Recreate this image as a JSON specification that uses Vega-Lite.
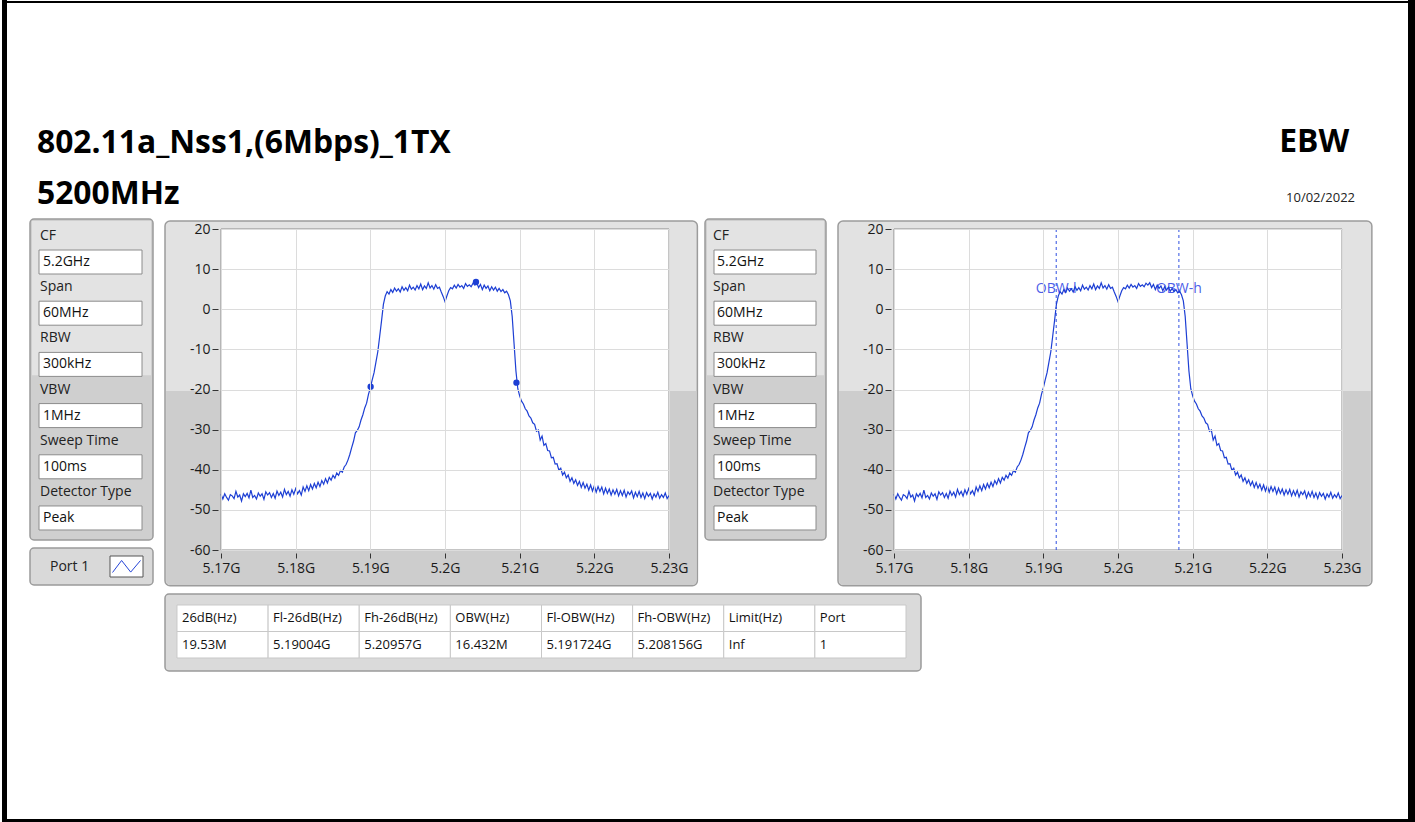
{
  "$schema": "https://vega.github.io/schema/vega-lite/v6.json",
  "padding": 0,
  "background": "white",
  "config": {"view": {"stroke": null}, "font": "Open Sans"},
  "datasets": {
    "trace": [
      {"f":5170,"p":-46.1},{"f":5170.25,"p":-47.3},{"f":5170.5,"p":-46.0},{"f":5170.75,"p":-46.9},
      {"f":5171,"p":-47.6},{"f":5171.25,"p":-46.2},{"f":5171.5,"p":-46.5},{"f":5171.75,"p":-47.2},
      {"f":5172,"p":-45.4},{"f":5172.25,"p":-46.8},{"f":5172.5,"p":-46.3},{"f":5172.75,"p":-47.8},
      {"f":5173,"p":-46.0},{"f":5173.25,"p":-46.7},{"f":5173.5,"p":-45.9},{"f":5173.75,"p":-47.0},
      {"f":5174,"p":-45.1},{"f":5174.25,"p":-46.9},{"f":5174.5,"p":-46.4},{"f":5174.75,"p":-47.3},
      {"f":5175,"p":-45.8},{"f":5175.25,"p":-46.6},{"f":5175.5,"p":-46.0},{"f":5175.75,"p":-47.4},
      {"f":5176,"p":-45.5},{"f":5176.25,"p":-46.3},{"f":5176.5,"p":-45.7},{"f":5176.75,"p":-46.9},
      {"f":5177,"p":-45.9},{"f":5177.25,"p":-47.1},{"f":5177.5,"p":-45.3},{"f":5177.75,"p":-46.4},
      {"f":5178,"p":-45.6},{"f":5178.25,"p":-46.8},{"f":5178.5,"p":-44.9},{"f":5178.75,"p":-46.2},
      {"f":5179,"p":-45.4},{"f":5179.25,"p":-46.6},{"f":5179.5,"p":-45.0},{"f":5179.75,"p":-46.1},
      {"f":5180,"p":-44.7},{"f":5180.25,"p":-46.0},{"f":5180.5,"p":-45.2},{"f":5180.75,"p":-46.3},
      {"f":5181,"p":-44.3},{"f":5181.25,"p":-45.4},{"f":5181.5,"p":-44.0},{"f":5181.75,"p":-45.2},
      {"f":5182,"p":-43.7},{"f":5182.25,"p":-44.8},{"f":5182.5,"p":-43.4},{"f":5182.75,"p":-44.5},
      {"f":5183,"p":-43.1},{"f":5183.25,"p":-44.2},{"f":5183.5,"p":-42.7},{"f":5183.75,"p":-43.6},
      {"f":5184,"p":-42.2},{"f":5184.25,"p":-43.3},{"f":5184.5,"p":-41.9},{"f":5184.75,"p":-42.6},
      {"f":5185,"p":-41.4},{"f":5185.25,"p":-42.1},{"f":5185.5,"p":-40.8},{"f":5185.75,"p":-41.4},
      {"f":5186,"p":-40.2},{"f":5186.25,"p":-40.6},{"f":5186.5,"p":-39.3},{"f":5186.75,"p":-38.7},
      {"f":5187,"p":-37.6},{"f":5187.25,"p":-36.2},{"f":5187.5,"p":-34.5},{"f":5187.75,"p":-32.9},
      {"f":5188,"p":-30.8},{"f":5188.25,"p":-30.2},{"f":5188.5,"p":-29.3},{"f":5188.75,"p":-27.6},
      {"f":5189,"p":-26.3},{"f":5189.25,"p":-24.6},{"f":5189.5,"p":-23.4},{"f":5189.75,"p":-21.2},
      {"f":5190,"p":-19.6},{"f":5190.25,"p":-17.6},{"f":5190.5,"p":-15.8},{"f":5190.75,"p":-13.2},
      {"f":5191,"p":-10.6},{"f":5191.25,"p":-6.8},{"f":5191.5,"p":-2.9},{"f":5191.75,"p":1.2},
      {"f":5192,"p":3.3},{"f":5192.25,"p":4.4},{"f":5192.5,"p":3.8},{"f":5192.75,"p":4.9},
      {"f":5193,"p":4.2},{"f":5193.25,"p":5.3},{"f":5193.5,"p":4.5},{"f":5193.75,"p":5.1},
      {"f":5194,"p":4.3},{"f":5194.25,"p":5.6},{"f":5194.5,"p":4.7},{"f":5194.75,"p":5.4},
      {"f":5195,"p":4.6},{"f":5195.25,"p":6.0},{"f":5195.5,"p":5.0},{"f":5195.75,"p":5.5},
      {"f":5196,"p":4.8},{"f":5196.25,"p":5.9},{"f":5196.5,"p":5.1},{"f":5196.75,"p":6.3},
      {"f":5197,"p":4.9},{"f":5197.25,"p":5.8},{"f":5197.5,"p":5.2},{"f":5197.75,"p":6.6},
      {"f":5198,"p":5.3},{"f":5198.25,"p":5.9},{"f":5198.5,"p":5.0},{"f":5198.75,"p":6.1},
      {"f":5199,"p":5.2},{"f":5199.25,"p":5.5},{"f":5199.5,"p":4.3},{"f":5199.75,"p":3.2},
      {"f":5200,"p":1.9},{"f":5200.25,"p":3.3},{"f":5200.5,"p":4.6},{"f":5200.75,"p":5.4},
      {"f":5201,"p":5.1},{"f":5201.25,"p":6.0},{"f":5201.5,"p":5.3},{"f":5201.75,"p":6.2},
      {"f":5202,"p":5.5},{"f":5202.25,"p":5.9},{"f":5202.5,"p":5.2},{"f":5202.75,"p":6.4},
      {"f":5203,"p":5.7},{"f":5203.25,"p":6.1},{"f":5203.5,"p":5.6},{"f":5203.75,"p":6.5},
      {"f":5204,"p":6.0},{"f":5204.25,"p":6.6},{"f":5204.5,"p":5.4},{"f":5204.75,"p":6.2},
      {"f":5205,"p":4.9},{"f":5205.25,"p":6.0},{"f":5205.5,"p":5.2},{"f":5205.75,"p":5.8},
      {"f":5206,"p":4.6},{"f":5206.25,"p":5.6},{"f":5206.5,"p":4.8},{"f":5206.75,"p":5.5},
      {"f":5207,"p":4.5},{"f":5207.25,"p":5.2},{"f":5207.5,"p":4.4},{"f":5207.75,"p":4.9},
      {"f":5208,"p":4.1},{"f":5208.25,"p":4.5},{"f":5208.5,"p":3.6},{"f":5208.75,"p":2.1},
      {"f":5209,"p":-1.8},{"f":5209.25,"p":-8.6},{"f":5209.5,"p":-15.4},{"f":5209.75,"p":-19.8},
      {"f":5210,"p":-21.6},{"f":5210.25,"p":-22.9},{"f":5210.5,"p":-23.6},{"f":5210.75,"p":-24.8},
      {"f":5211,"p":-25.4},{"f":5211.25,"p":-26.6},{"f":5211.5,"p":-27.1},{"f":5211.75,"p":-28.3},
      {"f":5212,"p":-28.7},{"f":5212.25,"p":-30.4},{"f":5212.5,"p":-30.1},{"f":5212.75,"p":-32.6},
      {"f":5213,"p":-31.6},{"f":5213.25,"p":-33.9},{"f":5213.5,"p":-33.5},{"f":5213.75,"p":-35.2},
      {"f":5214,"p":-35.3},{"f":5214.25,"p":-37.0},{"f":5214.5,"p":-36.9},{"f":5214.75,"p":-38.6},
      {"f":5215,"p":-38.5},{"f":5215.25,"p":-40.1},{"f":5215.5,"p":-39.6},{"f":5215.75,"p":-41.3},
      {"f":5216,"p":-40.6},{"f":5216.25,"p":-42.0},{"f":5216.5,"p":-41.3},{"f":5216.75,"p":-42.9},
      {"f":5217,"p":-42.0},{"f":5217.25,"p":-43.4},{"f":5217.5,"p":-42.5},{"f":5217.75,"p":-43.9},
      {"f":5218,"p":-42.9},{"f":5218.25,"p":-44.4},{"f":5218.5,"p":-43.2},{"f":5218.75,"p":-44.6},
      {"f":5219,"p":-43.6},{"f":5219.25,"p":-45.1},{"f":5219.5,"p":-43.8},{"f":5219.75,"p":-45.3},
      {"f":5220,"p":-44.0},{"f":5220.25,"p":-45.6},{"f":5220.5,"p":-44.2},{"f":5220.75,"p":-45.4},
      {"f":5221,"p":-44.3},{"f":5221.25,"p":-46.0},{"f":5221.5,"p":-44.6},{"f":5221.75,"p":-45.9},
      {"f":5222,"p":-44.8},{"f":5222.25,"p":-46.3},{"f":5222.5,"p":-45.0},{"f":5222.75,"p":-46.1},
      {"f":5223,"p":-44.9},{"f":5223.25,"p":-46.5},{"f":5223.5,"p":-45.2},{"f":5223.75,"p":-46.4},
      {"f":5224,"p":-45.1},{"f":5224.25,"p":-46.8},{"f":5224.5,"p":-45.5},{"f":5224.75,"p":-46.2},
      {"f":5225,"p":-45.3},{"f":5225.25,"p":-47.0},{"f":5225.5,"p":-45.6},{"f":5225.75,"p":-46.7},
      {"f":5226,"p":-45.4},{"f":5226.25,"p":-46.9},{"f":5226.5,"p":-45.8},{"f":5226.75,"p":-47.2},
      {"f":5227,"p":-45.7},{"f":5227.25,"p":-46.6},{"f":5227.5,"p":-45.9},{"f":5227.75,"p":-47.3},
      {"f":5228,"p":-46.0},{"f":5228.25,"p":-46.8},{"f":5228.5,"p":-45.6},{"f":5228.75,"p":-47.1},
      {"f":5229,"p":-46.2},{"f":5229.25,"p":-46.9},{"f":5229.5,"p":-45.8},{"f":5229.75,"p":-47.2},
      {"f":5230,"p":-46.4}
    ],
    "markers": [{"f":5190.04,"p":-19.3},{"f":5204.15,"p":6.8},{"f":5209.57,"p":-18.3}],
    "obw": [{"f":5191.724,"t":"OBW-l"},{"f":5208.156,"t":"OBW-h"}],
    "settings": [
      {"i":0,"label":"CF","value":"5.2GHz"},
      {"i":1,"label":"Span","value":"60MHz"},
      {"i":2,"label":"RBW","value":"300kHz"},
      {"i":3,"label":"VBW","value":"1MHz"},
      {"i":4,"label":"Sweep Time","value":"100ms"},
      {"i":5,"label":"Detector Type","value":"Peak"}
    ],
    "table": [
      {"r":"h","c":"26dB(Hz)","t":"26dB(Hz)"},
      {"r":"h","c":"Fl-26dB(Hz)","t":"Fl-26dB(Hz)"},
      {"r":"h","c":"Fh-26dB(Hz)","t":"Fh-26dB(Hz)"},
      {"r":"h","c":"OBW(Hz)","t":"OBW(Hz)"},
      {"r":"h","c":"Fl-OBW(Hz)","t":"Fl-OBW(Hz)"},
      {"r":"h","c":"Fh-OBW(Hz)","t":"Fh-OBW(Hz)"},
      {"r":"h","c":"Limit(Hz)","t":"Limit(Hz)"},
      {"r":"h","c":"Port","t":"Port"},
      {"r":"d","c":"26dB(Hz)","t":"19.53M"},
      {"r":"d","c":"Fl-26dB(Hz)","t":"5.19004G"},
      {"r":"d","c":"Fh-26dB(Hz)","t":"5.20957G"},
      {"r":"d","c":"OBW(Hz)","t":"16.432M"},
      {"r":"d","c":"Fl-OBW(Hz)","t":"5.191724G"},
      {"r":"d","c":"Fh-OBW(Hz)","t":"5.208156G"},
      {"r":"d","c":"Limit(Hz)","t":"Inf"},
      {"r":"d","c":"Port","t":"1"}
    ]
  },
  "bounds": "flush",
  "spacing": 10,
  "vconcat": [
    {
      "width": 1401, "height": 206,
      "data": {"values": [{}]},
      "layer": [
        {"mark": {"type": "rect", "fill": "white"},
         "encoding": {"x": {"datum": -0.0049964, "type": "quantitative", "scale": {"domain": [0, 1], "nice": false, "zero": false}, "axis": null},
                      "x2": {"datum": 1.0049964},
                      "y": {"datum": 1.0145631, "type": "quantitative", "scale": {"domain": [0, 1], "nice": false, "zero": false}, "axis": null},
                      "y2": {"datum": -2.9757282}}},
        {"mark": {"type": "rect", "fill": "black"},
         "encoding": {"x": {"datum": -0.0035689, "type": "quantitative", "axis": null}, "x2": {"datum": 0},
                      "y": {"datum": 1.0145631, "type": "quantitative", "axis": null}, "y2": {"datum": -2.9757282}}},
        {"mark": {"type": "rect", "fill": "black"},
         "encoding": {"x": {"datum": -0.0035689, "type": "quantitative", "axis": null}, "x2": {"datum": 1.0049964},
                      "y": {"datum": 1.0097087, "type": "quantitative", "axis": null}, "y2": {"datum": 1.0}}},
        {"mark": {"type": "rect", "fill": "black"},
         "encoding": {"x": {"datum": 1.0, "type": "quantitative", "axis": null}, "x2": {"datum": 1.0049964},
                      "y": {"datum": 1.0145631, "type": "quantitative", "axis": null}, "y2": {"datum": -2.9757282}}},
        {"mark": {"type": "rect", "fill": "black"},
         "encoding": {"x": {"datum": -0.0035689, "type": "quantitative", "axis": null}, "x2": {"datum": 1.0049964},
                      "y": {"datum": -2.9611650, "type": "quantitative", "axis": null}, "y2": {"datum": -2.9757282}}},
        {"mark": {"type": "text", "text": "802.11a_Nss1,(6Mbps)_1TX", "align": "left", "baseline": "alphabetic", "fontSize": 31.8, "fontWeight": "bold", "color": "#000"},
         "encoding": {"x": {"datum": 0.021413, "type": "quantitative", "axis": null},
                      "y": {"datum": 0.271845, "type": "quantitative", "axis": null}}},
        {"mark": {"type": "text", "text": "5200MHz", "align": "left", "baseline": "alphabetic", "fontSize": 31.8, "fontWeight": "bold", "color": "#000"},
         "encoding": {"x": {"datum": 0.021413, "type": "quantitative", "axis": null}, "y": {"datum": 0.024, "type": "quantitative", "axis": null}}},
        {"mark": {"type": "text", "text": "EBW", "align": "right", "baseline": "alphabetic", "fontSize": 31.8, "fontWeight": "bold", "color": "#000"},
         "encoding": {"x": {"datum": 0.958, "type": "quantitative", "axis": null}, "y": {"datum": 0.2767, "type": "quantitative", "axis": null}}},
        {"mark": {"type": "text", "text": "10/02/2022", "align": "right", "baseline": "alphabetic", "fontSize": 13, "color": "#222"},
         "encoding": {"x": {"datum": 0.9622, "type": "quantitative", "axis": null}, "y": {"datum": 0.034, "type": "quantitative", "axis": null}}}
      ]
    },
    {
      "spacing": 6,
      "vconcat": [
        {
          "spacing": 21,
          "hconcat": [
            {"width": 1, "height": 1, "data": {"values": []}, "mark": "point"},
            {
              "spacing": 10,
              "hconcat": [
                {
                  "spacing": 6,
                  "vconcat": [
                    {
                      "width": 123, "height": 321,
                      "view": {"fill": "#cfcfcf", "stroke": "#9a9a9a", "strokeWidth": 1.5, "cornerRadius": 4},
                      "layer": [
                        {"data": {"values": [{}]},
                         "mark": {"type": "rect", "fill": "#e3e3e3", "xOffset": 2, "x2Offset": -2, "yOffset": 2},
                         "encoding": {"x": {"datum": 0, "type": "quantitative", "scale": {"domain": [0, 1], "nice": false, "zero": false}, "axis": null},
                                      "x2": {"datum": 1},
                                      "y": {"datum": 0, "type": "quantitative", "scale": {"domain": [0, 6.27], "reverse": true, "nice": false, "zero": false}, "axis": null},
                                      "y2": {"datum": 3.05}}},
                        {"data": {"name": "settings"},
                         "mark": {"type": "rect", "fill": "white", "stroke": "#8c8c8c", "strokeWidth": 1, "xOffset": 9, "x2Offset": -11, "yOffset": 31, "y2Offset": 55},
                         "encoding": {"x": {"datum": 0, "type": "quantitative", "axis": null}, "x2": {"datum": 1},
                                      "y": {"field": "i", "type": "quantitative", "axis": null}, "y2": {"field": "i"}}},
                        {"data": {"name": "settings"},
                         "mark": {"type": "text", "align": "left", "baseline": "middle", "dx": 10, "dy": 17, "fontSize": 14, "color": "#222"},
                         "encoding": {"x": {"datum": 0, "type": "quantitative", "axis": null},
                                      "y": {"field": "i", "type": "quantitative", "axis": null},
                                      "text": {"field": "label"}}},
                        {"data": {"name": "settings"},
                         "mark": {"type": "text", "align": "left", "baseline": "middle", "dx": 13, "dy": 43, "fontSize": 14, "color": "#111"},
                         "encoding": {"x": {"datum": 0, "type": "quantitative", "axis": null},
                                      "y": {"field": "i", "type": "quantitative", "axis": null},
                                      "text": {"field": "value"}}}
                      ]
                    },
                    {
                      "width": 123, "height": 37,
                      "view": {"fill": "#d9d9d9", "stroke": "#9a9a9a", "strokeWidth": 1.5, "cornerRadius": 4},
                      "data": {"values": [{}]},
                      "layer": [
                        {"mark": {"type": "text", "text": "Port 1", "align": "left", "baseline": "middle", "dx": 20, "fontSize": 14, "color": "#222"},
                         "encoding": {"x": {"datum": 0, "type": "quantitative", "scale": {"domain": [0, 1], "nice": false, "zero": false}, "axis": null},
                                      "y": {"datum": 0.5, "type": "quantitative", "scale": {"domain": [0, 1], "nice": false, "zero": false}, "axis": null}}},
                        {"mark": {"type": "rect", "fill": "white", "stroke": "#555", "strokeWidth": 1, "xOffset": 80, "x2Offset": 113, "yOffset": 8, "y2Offset": 29},
                         "encoding": {"x": {"datum": 0, "type": "quantitative", "axis": null}, "x2": {"datum": 0},
                                      "y": {"datum": 1, "type": "quantitative", "axis": null}, "y2": {"datum": 1}}},
                        {"mark": {"type": "point", "shape": "M-1,0.43L-0.35,-0.43L0.3,0.4L1,-0.43", "size": 784, "filled": false, "stroke": "#2545d8", "strokeWidth": 1, "opacity": 1, "xOffset": 96.5},
                         "encoding": {"x": {"datum": 0, "type": "quantitative", "axis": null},
                                      "y": {"datum": 0.5, "type": "quantitative", "axis": null}}}
                      ]
                    }
                  ]
                },
                {
                  "spacing": 5,
                  "hconcat": [
                    {
                      "spacing": 0,
                      "vconcat": [
                        {"width": 1, "height": 1, "data": {"values": []}, "mark": "point"},
                        {
                          "width": 448, "height": 321,
                          "layer": [
                            {"data": {"values": [{}]},
                             "mark": {"type": "rect", "fill": "#e2e2e2", "stroke": "#9c9c9c", "strokeWidth": 1.5, "cornerRadius": 5},
                             "encoding": {"x": {"datum": 5162.5, "type": "quantitative"}, "x2": {"datum": 5233.8},
                                          "y": {"datum": 22.0, "type": "quantitative"}, "y2": {"datum": -68.9}}},
                            {"data": {"values": [{}]},
                             "mark": {"type": "rect", "fill": "#cdcdcd", "cornerRadiusBottomLeft": 4, "cornerRadiusBottomRight": 4},
                             "encoding": {"x": {"datum": 5162.65, "type": "quantitative"}, "x2": {"datum": 5233.65},
                                          "y": {"datum": -20.4, "type": "quantitative"}, "y2": {"datum": -68.75}}},
                            {"data": {"values": [{}]},
                             "mark": {"type": "rect", "fill": "white", "stroke": "#8a8a8a", "strokeWidth": 1},
                             "encoding": {"x": {"datum": 5170, "type": "quantitative"}, "x2": {"datum": 5230},
                                          "y": {"datum": 20, "type": "quantitative"}, "y2": {"datum": -60}}},
                            {"data": {"name": "trace"},
                             "mark": {"type": "line", "color": "#1d3fd4", "strokeWidth": 1.2},
                             "encoding": {
                               "x": {"field": "f", "type": "quantitative",
                                     "scale": {"domain": [5170, 5230], "nice": false, "zero": false},
                                     "axis": {"title": null, "values": [5170, 5180, 5190, 5200, 5210, 5220, 5230],
                                              "labelExpr": "format(datum.value / 1000, '.2~f') + 'G'",
                                              "grid": true, "gridColor": "#dcdcdc", "domain": false,
                                              "tickColor": "#333", "tickSize": 5, "offset": 3, "labelPadding": 3,
                                              "labelFontSize": 14, "labelColor": "#1a1a1a", "labelFlush": false, "labelOverlap": false, "zindex": 1}},
                               "y": {"field": "p", "type": "quantitative",
                                     "scale": {"domain": [-60, 20], "nice": false, "zero": false},
                                     "axis": {"title": null, "values": [-60, -50, -40, -30, -20, -10, 0, 10, 20],
                                              "labelExpr": "datum.value < 0 ? '-' + (-datum.value) : '' + datum.value",
                                              "grid": true, "gridColor": "#dcdcdc", "domain": false,
                                              "tickColor": "#333", "tickSize": 6, "offset": 3, "labelPadding": 2,
                                              "labelFontSize": 14, "labelColor": "#1a1a1a", "labelOverlap": false, "zindex": 1}}
                             }},
                            {"data": {"name": "markers"},
                             "mark": {"type": "circle", "color": "#1d3fd4", "size": 40, "opacity": 1},
                             "encoding": {"x": {"field": "f", "type": "quantitative"}, "y": {"field": "p", "type": "quantitative"}}}
                          ]
                        }
                      ]
                    },
                    {
                      "spacing": 10,
                      "hconcat": [
                        {
                          "width": 121, "height": 321,
                          "view": {"fill": "#cfcfcf", "stroke": "#9a9a9a", "strokeWidth": 1.5, "cornerRadius": 4},
                          "layer": [
                            {"data": {"values": [{}]},
                             "mark": {"type": "rect", "fill": "#e3e3e3", "xOffset": 2, "x2Offset": -2, "yOffset": 2},
                             "encoding": {"x": {"datum": 0, "type": "quantitative", "scale": {"domain": [0, 1], "nice": false, "zero": false}, "axis": null},
                                          "x2": {"datum": 1},
                                          "y": {"datum": 0, "type": "quantitative", "scale": {"domain": [0, 6.27], "reverse": true, "nice": false, "zero": false}, "axis": null},
                                          "y2": {"datum": 3.05}}},
                            {"data": {"name": "settings"},
                             "mark": {"type": "rect", "fill": "white", "stroke": "#8c8c8c", "strokeWidth": 1, "xOffset": 9, "x2Offset": -10, "yOffset": 31, "y2Offset": 55},
                             "encoding": {"x": {"datum": 0, "type": "quantitative", "axis": null}, "x2": {"datum": 1},
                                          "y": {"field": "i", "type": "quantitative", "axis": null}, "y2": {"field": "i"}}},
                            {"data": {"name": "settings"},
                             "mark": {"type": "text", "align": "left", "baseline": "middle", "dx": 8, "dy": 17, "fontSize": 14, "color": "#222"},
                             "encoding": {"x": {"datum": 0, "type": "quantitative", "axis": null},
                                          "y": {"field": "i", "type": "quantitative", "axis": null},
                                          "text": {"field": "label"}}},
                            {"data": {"name": "settings"},
                             "mark": {"type": "text", "align": "left", "baseline": "middle", "dx": 12, "dy": 43, "fontSize": 14, "color": "#111"},
                             "encoding": {"x": {"datum": 0, "type": "quantitative", "axis": null},
                                          "y": {"field": "i", "type": "quantitative", "axis": null},
                                          "text": {"field": "value"}}}
                          ]
                        },
                        {
                          "spacing": 0,
                          "vconcat": [
                            {"width": 1, "height": 1, "data": {"values": []}, "mark": "point"},
                            {
                              "width": 448, "height": 321,
                              "layer": [
                                {"data": {"values": [{}]},
                                 "mark": {"type": "rect", "fill": "#e2e2e2", "stroke": "#9c9c9c", "strokeWidth": 1.5, "cornerRadius": 5},
                                 "encoding": {"x": {"datum": 5162.5, "type": "quantitative"}, "x2": {"datum": 5234.0},
                                              "y": {"datum": 22.0, "type": "quantitative"}, "y2": {"datum": -68.9}}},
                                {"data": {"values": [{}]},
                                 "mark": {"type": "rect", "fill": "#cdcdcd", "cornerRadiusBottomLeft": 4, "cornerRadiusBottomRight": 4},
                                 "encoding": {"x": {"datum": 5162.65, "type": "quantitative"}, "x2": {"datum": 5233.85},
                                              "y": {"datum": -20.4, "type": "quantitative"}, "y2": {"datum": -68.75}}},
                                {"data": {"values": [{}]},
                                 "mark": {"type": "rect", "fill": "white", "stroke": "#8a8a8a", "strokeWidth": 1},
                                 "encoding": {"x": {"datum": 5170, "type": "quantitative"}, "x2": {"datum": 5230},
                                              "y": {"datum": 20, "type": "quantitative"}, "y2": {"datum": -60}}},
                                {"data": {"name": "obw"},
                                 "mark": {"type": "rule", "color": "#2f4fe0", "strokeDash": [3, 3], "strokeWidth": 1},
                                 "encoding": {"x": {"field": "f", "type": "quantitative"}}},
                                {"data": {"name": "obw"},
                                 "mark": {"type": "text", "color": "#4d5ee8", "fontSize": 14, "align": "center", "baseline": "middle"},
                                 "encoding": {"x": {"field": "f", "type": "quantitative"}, "y": {"datum": 5, "type": "quantitative"}, "text": {"field": "t"}}},
                                {"data": {"name": "trace"},
                                 "mark": {"type": "line", "color": "#1d3fd4", "strokeWidth": 1.2},
                                 "encoding": {
                                   "x": {"field": "f", "type": "quantitative",
                                         "scale": {"domain": [5170, 5230], "nice": false, "zero": false},
                                         "axis": {"title": null, "values": [5170, 5180, 5190, 5200, 5210, 5220, 5230],
                                                  "labelExpr": "format(datum.value / 1000, '.2~f') + 'G'",
                                                  "grid": true, "gridColor": "#dcdcdc", "domain": false,
                                                  "tickColor": "#333", "tickSize": 5, "offset": 3, "labelPadding": 3,
                                                  "labelFontSize": 14, "labelColor": "#1a1a1a", "labelFlush": false, "labelOverlap": false, "zindex": 1}},
                                   "y": {"field": "p", "type": "quantitative",
                                         "scale": {"domain": [-60, 20], "nice": false, "zero": false},
                                         "axis": {"title": null, "values": [-60, -50, -40, -30, -20, -10, 0, 10, 20],
                                                  "labelExpr": "datum.value < 0 ? '-' + (-datum.value) : '' + datum.value",
                                                  "grid": true, "gridColor": "#dcdcdc", "domain": false,
                                                  "tickColor": "#333", "tickSize": 6, "offset": 3, "labelPadding": 2,
                                                  "labelFontSize": 14, "labelColor": "#1a1a1a", "labelOverlap": false, "zindex": 1}}
                                 }}
                              ]
                            }
                          ]
                        }
                      ]
                    }
                  ]
                }
              ]
            }
          ]
        },
        {
          "spacing": 156,
          "hconcat": [
            {"width": 1, "height": 1, "data": {"values": []}, "mark": "point"},
            {
              "width": 756, "height": 77,
              "view": {"fill": "#dadada", "stroke": "#9a9a9a", "strokeWidth": 1.5, "cornerRadius": 4},
              "data": {"name": "table"},
              "layer": [
                {"mark": {"type": "rect", "fill": "white", "stroke": "#c8c8c8", "strokeWidth": 1},
                 "encoding": {
                   "x": {"field": "c", "type": "nominal", "axis": null,
                         "scale": {"domain": ["26dB(Hz)", "Fl-26dB(Hz)", "Fh-26dB(Hz)", "OBW(Hz)", "Fl-OBW(Hz)", "Fh-OBW(Hz)", "Limit(Hz)", "Port"],
                                   "paddingInner": 0, "paddingOuter": 0.148, "align": 0.444}},
                   "y": {"field": "r", "type": "nominal", "axis": null,
                         "scale": {"domain": ["h", "d"], "paddingInner": 0, "paddingOuter": 0.453, "align": 0.458}}
                 }},
                {"mark": {"type": "text", "align": "left", "baseline": "middle", "dx": 5, "fontSize": 13, "color": "#111"},
                 "encoding": {
                   "x": {"field": "c", "type": "nominal", "axis": null, "bandPosition": 0},
                   "y": {"field": "r", "type": "nominal", "axis": null},
                   "text": {"field": "t"}
                 }}
              ]
            }
          ]
        }
      ]
    }
  ]
}
